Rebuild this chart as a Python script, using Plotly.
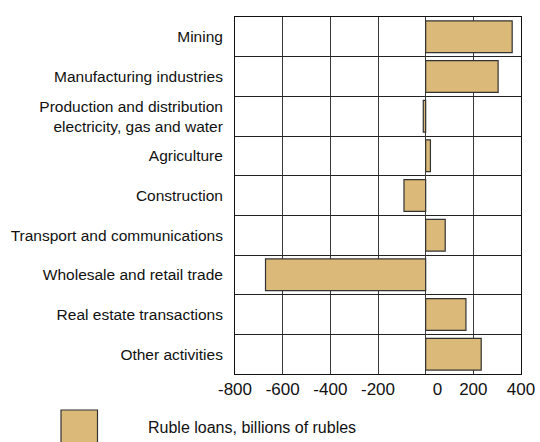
import plotly.graph_objects as go

categories = [
    "Mining",
    "Manufacturing industries",
    "Production and distribution<br>electricity, gas and water",
    "Agriculture",
    "Construction",
    "Transport and communications",
    "Wholesale and retail trade",
    "Real estate transactions",
    "Other activities",
]
ruble_loans = [363, 304, -10, 20, -91, 82, -672, 169, 233]
tick_values = [-800, -600, -400, -200, 0, 200, 400]
tick_labels = ["-800", "-600", "-400", "-200", "\u00a0\u00a0\u00a0\u00a0\u00a00", "200", "400"]
legend_label = "Ruble loans, billions of rubles"

FONT = "Liberation Sans, Arial, sans-serif"
BAR_COLOR = "#DBB978"

fig = go.Figure()
fig.add_trace(go.Bar(
    x=ruble_loans,
    y=categories,
    orientation="h",
    width=0.8,
    marker=dict(color=BAR_COLOR, line=dict(color="#333333", width=1.2)),
    name=legend_label,
    showlegend=False,
))

fig.update_layout(
    width=540,
    height=442,
    margin=dict(l=235, r=19, t=17, b=68),
    paper_bgcolor="white",
    plot_bgcolor="white",
    font=dict(family=FONT, size=16, color="#111111"),
    bargap=0.2,
)

fig.update_xaxes(
    range=[-800, 400],
    tickvals=tick_values,
    ticktext=tick_labels,
    showgrid=True,
    gridcolor="#3a3a3a",
    gridwidth=1,
    zeroline=True,
    zerolinecolor="#3a3a3a",
    zerolinewidth=1,
    showline=True,
    linecolor="#111111",
    linewidth=1,
    mirror=True,
    ticks="",
    tickfont=dict(size=17),
    automargin=False,
    fixedrange=True,
)
fig.update_yaxes(
    autorange="reversed",
    tickson="boundaries",
    showgrid=True,
    gridcolor="#222222",
    gridwidth=1,
    showline=True,
    linecolor="#111111",
    linewidth=1,
    mirror=True,
    ticks="",
    ticklabelstandoff=8,
    tickfont=dict(size=15.5),
    automargin=False,
    fixedrange=True,
)

# legend swatch and label
fig.add_shape(type="rect", xref="paper", yref="paper",
              x0=(61 - 235) / 286, x1=(97.5 - 235) / 286,
              y0=(374 - 446) / 357, y1=(374 - 410) / 357,
              fillcolor=BAR_COLOR, line=dict(color="#333333", width=1.2))
fig.add_annotation(text=legend_label, xref="paper", yref="paper",
                   x=(146 - 235) / 286, y=(374 - 428) / 357,
                   xanchor="left", yanchor="middle", showarrow=False,
                   font=dict(family=FONT, size=16, color="#111111"))

fig.write_html(
    "out.html",
    config={"displayModeBar": False, "staticPlot": True},
    post_script="document.body.style.margin='0';document.body.style.overflow='hidden';",
)
